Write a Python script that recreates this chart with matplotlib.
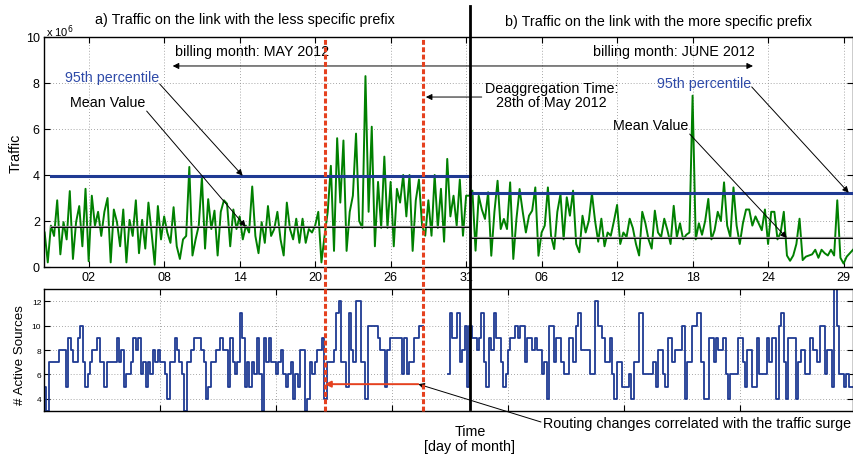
import numpy as np
import matplotlib
matplotlib.use('Agg')
import matplotlib.pyplot as plt
from matplotlib.lines import Line2D
from matplotlib.transforms import blended_transform_factory

plt.rcParams['font.family'] = ['Liberation Sans', 'DejaVu Sans']

# ---- traffic (x 10^6), one sample every 6 h; x axis in days (May day, June = 31 + day)
t_first = -1.5
t_step = 0.25
traffic_may = [
    1.5, 0.2, 1.8, 1.35, 2.9, 0.55, 1.95, 1.2, 3.3, 0.35,
    1.95, 2.65, 0.9, 3.4, 0.25, 3.1, 1.8, 2.4, 1.35, 2.4,
    3.0, 0.2, 2.5, 1.95, 0.9, 2.5, 0.2, 2.05, 1.35, 2.9,
    0.6, 2.05, 0.8, 2.8, 1.5, 0.1, 2.65, 1.2, 2.2, 1.5,
    1.05, 2.6, 0.9, 0.35, 1.2, 1.35, 4.35, 0.5, 1.2, 1.8,
    3.9, 0.8, 2.95, 1.65, 2.45, 0.5, 2.4, 2.9, 2.75, 0.9,
    2.5, 1.65, 2.2, 1.2, 1.8, 1.5, 3.5, 1.35, 0.6, 1.95,
    1.05, 2.65, 1.35, 1.65, 2.4, 1.2, 0.5, 2.8, 1.65, 1.2,
    2.1, 1.05, 2.1, 1.05, 1.65, 1.5,
    1.8, 2.4, 0.2, 1.36, 2.4, 4.4, 0.7, 5.6, 2.8, 5.5,
    0.7, 2.4, 3.1, 5.8, 2.0, 1.7, 8.3, 2.4, 6.1, 0.9,
    3.7, 1.7, 4.8, 1.7, 3.7, 0.9, 3.4, 2.8,
    4.0, 2.2, 4.0, 0.7, 2.9, 3.8, 1.8, 1.36, 2.9, 1.36, 4.0,
    1.7, 3.4, 1.1, 4.7, 2.2, 3.1, 1.8, 3.8, 1.36, 3.1,
]
traffic_jun = [
    3.1, 3.32, 0.71, 3.1, 2.5, 2.09, 3.25, 0.49, 2.4, 3.75,
    1.65, 2.09, 1.65, 3.68, 0.35, 2.09, 3.39, 2.4, 1.5, 2.23,
    2.45, 3.46, 0.49, 1.5, 1.8, 3.46, 1.36, 0.78, 2.4, 3.17,
    1.2, 3.03, 2.23, 3.32, 1.0, 0.64, 2.23,
    1.5, 2.0, 3.2, 2.0, 1.1, 2.1, 0.9, 1.5, 1.36, 2.0,
    2.7, 1.0, 1.5, 1.3, 2.1, 1.7, 1.0, 0.5, 2.4, 1.9,
    1.2, 0.8, 2.45, 1.5, 1.3, 2.1, 1.6, 1.0, 2.66, 1.3,
    1.9, 1.2, 1.4, 1.5, 7.45, 1.2, 1.9, 1.4, 2.0, 2.96,
    1.2, 1.6, 2.4, 2.0, 3.68, 1.8, 1.3, 3.46, 1.8, 1.0,
    1.9, 2.5, 2.5, 1.8, 2.2, 1.9, 1.6, 2.5, 1.0, 2.4,
    2.4, 1.2, 1.5, 2.4, 0.5, 0.27, 0.5, 1.0, 2.1, 0.3,
    0.45, 0.5, 0.55, 0.75, 0.4, 0.75, 0.6, 0.5, 0.75, 0.5,
    2.9, 0.4, 0.15, 0.45, 0.6, 0.75,
]
p95_may, p95_jun = 3.97, 3.23
mean_may, mean_jun = 1.75, 1.26

t_surge = 20.76     # start of routing changes
t_deagg = 28.6      # deaggregation, 28th of May
t_month = 32.3      # billing month boundary

top_ticks = [2, 8, 14, 20, 26, 32, 38, 44, 50, 56, 62]
top_ticklabels = ['02', '08', '14', '20', '26', '31', '06', '12', '18', '24', '29']

# ---- number of active sources (stairs), one value per slot
sources_a = [
    5, 3, 7, 7, 7, 7, 8, 8, 8, 5, 9, 8, 7, 7, 9, 10, 7, 5, 6, 7,
    8, 8, 9, 7, 7, 5, 7, 7, 7, 7, 9, 7, 8, 5, 6, 6, 7, 9, 8, 9,
    6, 7, 5, 7, 6, 8, 7, 8, 7, 7, 6, 4, 7, 7, 9, 8, 7, 6, 3, 7,
    7, 8, 9, 9, 9, 8, 7, 4, 5, 7, 7, 8, 8, 9, 8, 8, 5, 9, 7, 6,
    7, 11, 9, 5, 7, 5, 7, 6, 9, 6, 3, 9, 7, 9, 7, 7, 6, 7, 8, 6,
    5, 6, 7, 4, 6, 5, 8, 8, 3, 4, 7, 6, 7, 8,
    8, 9, 4, 7, 7, 7, 8, 11, 12, 7, 7, 5, 11, 8, 7, 12, 12, 7, 7, 4,
    10, 10, 10, 10, 9, 8, 8, 5, 8, 9, 9, 9, 9, 9, 6, 9, 6, 7, 7, 9,
    9, 10, 10,
]
sources_gap = 10   # slots with no data
sources_b = [
    6, 11, 9, 9, 11, 7, 8, 10, 5, 10, 9, 9, 8, 9, 11, 7, 5, 9, 8, 11,
    9, 9, 7, 5, 6, 8, 9, 9, 10, 9, 10, 10, 7, 9, 9, 8, 9, 8, 8, 6,
    7, 4, 10, 10, 7, 9, 9, 7, 6, 6, 9, 9, 7, 10, 11, 8, 8,
    8, 8, 6, 6, 12, 10, 10, 9, 7, 7, 9, 6, 4, 7, 7, 5, 5, 5, 6, 4,
    7, 7, 11, 11, 6, 6, 6, 6, 7, 5, 8, 8, 6, 5, 9, 9, 7, 8, 8, 8,
    10, 4, 7, 7, 10, 10, 11, 11, 7, 4, 4, 9, 9, 7, 9, 8, 8, 9, 6, 4,
    6, 6, 6, 9, 9, 7, 5, 8, 8, 5, 5, 9, 6, 6, 6, 9, 7, 9, 9, 4,
    10, 11, 7, 4, 9, 9, 9, 4, 7, 8, 8, 6, 6, 9, 8, 8, 7, 10, 10, 6,
    8, 8, 5, 13, 10, 6, 6, 5, 6, 5, 5,
]

green = '#008000'
navy = '#1f3a93'
red = '#e5411f'
label_blue = '#2e4aa8'
fs = 10.3
W, H = 854, 456

fig = plt.figure(figsize=(W / 100, H / 100), dpi=100)
ax = fig.add_axes([44 / W, 1 - 268 / H, 809 / W, 230 / H])
axb = fig.add_axes([44 / W, 1 - 412 / H, 809 / W, 122 / H])

# ---------------- top panel
traffic = np.array(traffic_may + traffic_jun)
t = t_first + t_step * np.arange(len(traffic))
ax.plot(t, traffic, color=green, lw=1.4, zorder=2)

t_left = -1.0
ax.plot([t_left, t_month], [p95_may, p95_may], color=navy, lw=2.2, zorder=3)
ax.plot([t_month, 63], [p95_jun, p95_jun], color=navy, lw=2.2, zorder=3)
ax.plot([t_left, t_month], [mean_may, mean_may], color='#8c8c8c', lw=1.6, zorder=3)
ax.plot([t_left, t_month], [mean_may, mean_may], color='k', lw=0.7, zorder=3)
ax.plot([t_month + 0.2, 63], [mean_jun, mean_jun], color='#8c8c8c', lw=1.6, zorder=3)
ax.plot([t_month + 0.2, 63], [mean_jun, mean_jun], color='k', lw=0.7, zorder=3)

ax.set_xlim(-1.55, 62.75)
ax.set_ylim(0, 10)
ax.set_xticks(top_ticks)
ax.set_xticklabels(top_ticklabels)
ax.set_yticks([0, 2, 4, 6, 8, 10])
ax.set_ylabel('Traffic', fontsize=fs)
ax.yaxis.set_label_coords(-0.026, 0.5)

for a in (ax, axb):
    a.grid(True, ls=(0, (1, 2.5)), color='#8a8a8a', lw=0.6)
    a.tick_params(direction='in', top=True, right=True, length=4, width=0.8,
                  labelsize=9, pad=3)
    for s in a.spines.values():
        s.set_linewidth(1.0)

# annotations, top panel
arr = dict(arrowstyle='-|>', color='k', lw=0.7, mutation_scale=9,
           shrinkA=0, shrinkB=0)
ax.text(8.84, 9.39, 'billing month: MAY 2012', fontsize=fs, va='center', ha='left')
ax.text(54.94, 9.39, 'billing month: JUNE 2012', fontsize=fs, va='center', ha='right')
ax.annotate('', xy=(8.68, 8.74), xytext=(t_month, 8.74), arrowprops=arr)
ax.annotate('', xy=(54.8, 8.74), xytext=(t_month, 8.74), arrowprops=arr)

ax.text(0.09, 8.26, '95th percentile', color=label_blue, fontsize=fs, va='center')
ax.annotate('', xy=(14.24, p95_may), xytext=(7.64, 7.96), arrowprops=arr)
ax.text(0.49, 7.17, 'Mean Value', fontsize=fs, va='center')
ax.annotate('', xy=(14.48, mean_may), xytext=(6.61, 6.78), arrowprops=arr)

ax.text(47.15, 8.0, '95th percentile', color=label_blue, fontsize=fs, va='center')
ax.annotate('', xy=(62.41, p95_jun), xytext=(54.7, 7.83), arrowprops=arr)
ax.text(43.65, 6.17, 'Mean Value', fontsize=fs, va='center')
ax.annotate('', xy=(57.49, mean_jun), xytext=(49.77, 5.78), arrowprops=arr)

ax.text(38.8, 7.46, 'Deaggregation Time:\n28th of May 2012', fontsize=fs,
        ha='center', va='center', linespacing=1.0)
ax.annotate('', xy=(t_deagg + 0.2, 7.39), xytext=(33.24, 7.39), arrowprops=arr)

fig.text(46 / W, 1 - 32 / H, r'x 10$^6$', fontsize=8, va='center')
fig.text(245 / W, 1 - 20 / H, 'a) Traffic on the link with the less specific prefix',
         fontsize=fs, ha='center', va='center')
fig.text(659 / W, 1 - 22 / H, 'b) Traffic on the link with the more specific prefix',
         fontsize=fs, ha='center', va='center')

# ---------------- bottom panel
src = np.array(sources_a + [np.nan] * sources_gap + sources_b, dtype=float)
xs = np.arange(len(src) + 1)
axb.step(xs, np.append(src, src[-1]), where='post', color=navy, lw=1.3)
axb.set_xlim(0, 334.7)
axb.set_ylim(3, 13)
axb.set_xticks([48, 96, 144, 192, 240, 288])
axb.set_xticklabels([])
axb.set_yticks([4, 6, 8, 10, 12])
axb.tick_params(labelsize=6, pad=2)
axb.set_ylabel('# Active Sources', fontsize=9.6)
axb.yaxis.set_label_coords(-0.022, 0.47)

fig.text(470 / W, 1 - 432 / H, 'Time', fontsize=fs, ha='center', va='center')
fig.text(470 / W, 1 - 447 / H, '[day of month]', fontsize=fs, ha='center', va='center')

# vertical event lines across both panels
vtr = blended_transform_factory(ax.transData, fig.transFigure)
for tv in (t_surge, t_deagg):
    fig.add_artist(Line2D([tv, tv], [1 - 412 / H, 1 - 40 / H], transform=vtr,
                          color=red, lw=2.2, ls=(0, (1.6, 0.8))))
fig.add_artist(Line2D([t_month, t_month], [1 - 410 / H, 1 - 7 / H], transform=vtr,
                      color='k', lw=2.0))

btr = blended_transform_factory(ax.transData, axb.transData)
axb.annotate('', xy=(t_surge, 5.2), xytext=(t_deagg - 0.4, 5.2), xycoords=btr,
             textcoords=btr,
             arrowprops=dict(arrowstyle='-|>', color=red, lw=1.4, mutation_scale=9,
                             shrinkA=0, shrinkB=0))
axb.annotate('', xy=(t_deagg - 0.4, 5.2), xycoords=btr,
             xytext=(541 / W, 1 - 423 / H), textcoords='figure fraction',
             arrowprops=arr, annotation_clip=False)
fig.text(543 / W, 1 - 424 / H, 'Routing changes correlated with the traffic surge',
         fontsize=fs, ha='left', va='center')

fig.savefig('out.png', dpi=100)
